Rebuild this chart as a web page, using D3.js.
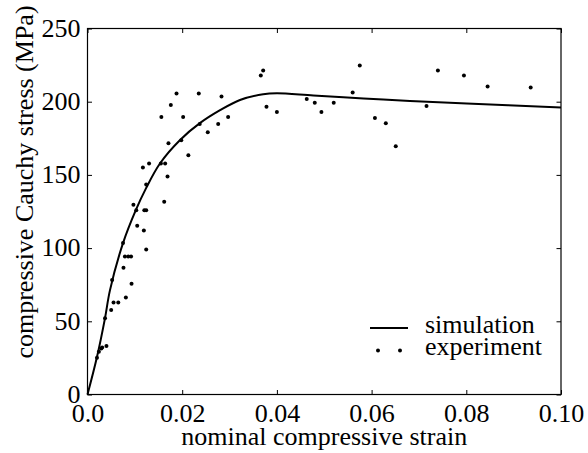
<!DOCTYPE html>
<html>
<head>
<meta charset="utf-8">
<script src="https://cdn.jsdelivr.net/npm/d3@7"></script>
<style>
  body { margin: 0; background: #fff; }
  svg { display: block; }
  text { font-family: "Liberation Serif", "Times New Roman", serif; fill: #000; }
</style>
</head>
<body>
<svg id="chart"></svg>
<script>
// experiment points (strain, stress MPa)
var expStrain = [0.0020, 0.0024, 0.0029, 0.0031, 0.0040, 0.0037, 0.0050, 0.0055, 0.0065, 0.0052,
  0.0081, 0.0093, 0.0076, 0.0079, 0.0086, 0.0092, 0.0075, 0.0124, 0.0105, 0.0119,
  0.0103, 0.0120, 0.0124, 0.0097, 0.0162, 0.0124, 0.0169, 0.0117, 0.0130, 0.0155,
  0.0164, 0.0213, 0.0171, 0.0198, 0.0254, 0.0237, 0.0276, 0.0156, 0.0202, 0.0297,
  0.0176, 0.0188, 0.0235, 0.0283, 0.0366, 0.0371, 0.0378, 0.0400, 0.0463, 0.0480,
  0.0494, 0.0520, 0.0560, 0.0575, 0.0607, 0.0630, 0.0651, 0.0716, 0.0740, 0.0795,
  0.0845, 0.0936];
var expStress = [25.1, 29.2, 31.5, 32.1, 33.1, 52.0, 57.7, 62.9, 62.9, 78.2,
  66.2, 75.6, 86.6, 94.3, 94.3, 94.3, 103.4, 99.1, 115.2, 112.1,
  125.9, 125.9, 125.9, 129.6, 131.6, 143.5, 148.9, 155.1, 157.8, 157.8,
  157.8, 163.5, 171.7, 173.7, 179.2, 184.8, 184.8, 189.6, 189.6, 189.6,
  197.8, 205.6, 205.6, 203.6, 217.9, 221.3, 196.5, 193.0, 201.9, 199.2,
  193.0, 199.2, 206.3, 224.7, 188.9, 185.3, 169.6, 197.1, 221.3, 217.9,
  210.4, 209.7];

// simulation curve
var simStrain = [0, 0.0020, 0.0037, 0.00475, 0.0075, 0.0102, 0.01235, 0.0153, 0.0195, 0.0238,
  0.0280, 0.0322, 0.0371, 0.0400, 0.0477, 0.0583, 0.0681, 0.0801, 0.1000];
var simStress = [0, 25.6, 52.2, 71.3, 103.4, 125.9, 140.8, 157.8, 173.7, 185.5,
  194.2, 201.2, 205.1, 205.7, 204.2, 202.2, 200.5, 198.8, 196.0];

var xTicks = [0, 0.02, 0.04, 0.06, 0.08, 0.10];
var xTickLabels = ["0.0", "0.02", "0.04", "0.06", "0.08", "0.10"];
var yTicks = [0, 50, 100, 150, 200, 250];

var W = 588, H = 453;
var margin = {top: 28.5, right: 27, bottom: 58.5, left: 87.5};
var width = W - margin.left - margin.right,
    height = H - margin.top - margin.bottom;
var fontSize = 26;

var svg = d3.select("#chart").attr("width", W).attr("height", H);
var g = svg.append("g").attr("transform", `translate(${margin.left},${margin.top})`);

var x = d3.scaleLinear().domain([0, 0.10]).range([0, width]);
var y = d3.scaleLinear().domain([0, 250]).range([height, 0]);

/** axes, ticks pointing inward on all four sides */
var tickLen = 4.5;
var xb = g.append("g").attr("transform", `translate(0,${height})`)
  .call(d3.axisBottom(x).tickValues(xTicks).tickSizeInner(-tickLen).tickSizeOuter(0).tickPadding(9)
    .tickFormat((d, i) => xTickLabels[i]));
var xt = g.append("g")
  .call(d3.axisTop(x).tickValues(xTicks).tickSizeInner(-tickLen).tickSizeOuter(0).tickFormat(""));
var yl = g.append("g")
  .call(d3.axisLeft(y).tickValues(yTicks).tickSizeInner(-tickLen).tickSizeOuter(0).tickPadding(7));
var yr = g.append("g").attr("transform", `translate(${width},0)`)
  .call(d3.axisRight(y).tickValues(yTicks).tickSizeInner(-tickLen).tickSizeOuter(0).tickFormat(""));

[xb, xt, yl, yr].forEach(function(a) {
  a.select(".domain").remove();
  a.selectAll(".tick line").attr("stroke", "#000").attr("stroke-width", 1);
  a.selectAll("text").style("font-size", fontSize + "px").style("font-family", "Liberation Serif");
});
yl.selectAll("text").attr("dy", "0.3em");

g.append("rect").attr("width", width).attr("height", height)
  .attr("fill", "none").attr("stroke", "#000").attr("stroke-width", 1.2);

/** simulation line */
var simData = simStrain.map((d, i) => [d, simStress[i]]);
g.append("path").datum(simData)
  .attr("fill", "none").attr("stroke", "#000").attr("stroke-width", 2)
  .attr("d", d3.line().curve(d3.curveCatmullRom.alpha(0.5)).x(d => x(d[0])).y(d => y(d[1])));

/** experiment points */
var expData = expStrain.map((d, i) => [d, expStress[i]]);
g.selectAll(".pt").data(expData).join("circle")
  .attr("class", "pt")
  .attr("cx", d => x(d[0])).attr("cy", d => y(d[1]))
  .attr("r", 2).attr("fill", "#000");

/** axis labels */
svg.append("text").attr("x", margin.left + width / 2).attr("y", 445)
  .attr("text-anchor", "middle").style("font-size", fontSize + "px")
  .text("nominal compressive strain");
svg.append("text").attr("transform", "translate(33,182) rotate(-90)")
  .attr("text-anchor", "middle").style("font-size", fontSize + "px")
  .text("compressive Cauchy stress (MPa)");

/** legend */
var lg = svg.append("g");
lg.append("line").attr("x1", 370).attr("x2", 408).attr("y1", 328).attr("y2", 328)
  .attr("stroke", "#000").attr("stroke-width", 2);
lg.selectAll(".lpt").data([378, 400]).join("circle")
  .attr("cx", d => d).attr("cy", 350.5).attr("r", 2).attr("fill", "#000");
lg.append("text").attr("x", 425).attr("y", 333).style("font-size", fontSize + "px").text("simulation");
lg.append("text").attr("x", 425).attr("y", 355).style("font-size", fontSize + "px").text("experiment");
</script>
</body>
</html>
